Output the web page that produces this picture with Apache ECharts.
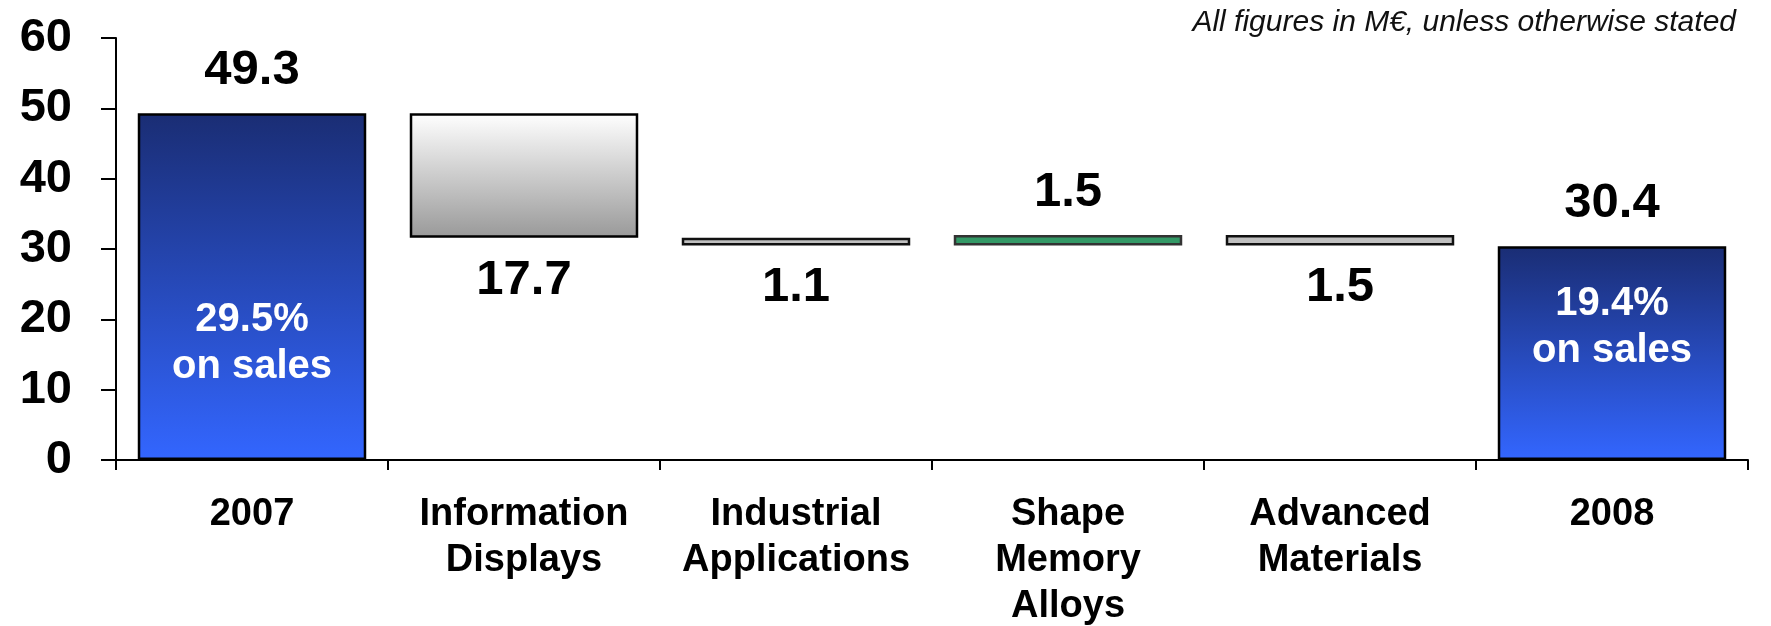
<!DOCTYPE html>
<html>
<head>
<meta charset="utf-8">
<script src="https://cdn.jsdelivr.net/npm/echarts@6/dist/echarts.min.js"></script>
<style>
  html, body { margin: 0; padding: 0; background: #fff; }
  #chart { width: 1771px; height: 626px; }
</style>
</head>
<body>
<div id="chart"></div>
<script>
// data
var categories = ['2007', 'Information\nDisplays', 'Industrial\nApplications', 'Shape\nMemory\nAlloys', 'Advanced\nMaterials', '2008'];
var deltas = [49.3, -17.7, -1.1, 1.5, -1.5, 30.4];
var isTotal = [true, false, false, false, false, true];
var shares = ['29.5%', '', '', '', '', '19.4%'];
var yTicks = [0, 10, 20, 30, 40, 50, 60];

// bar looks
var blueFill = new echarts.graphic.LinearGradient(0, 0, 0, 1, [
  { offset: 0, color: '#1a2d74' }, { offset: 1, color: '#3366ff' }
]);
var greyFill = new echarts.graphic.LinearGradient(0, 0, 0, 1, [
  { offset: 0, color: '#ffffff' }, { offset: 1, color: '#999999' }
]);
var fills = [blueFill, greyFill, '#c0c0c0', '#339966', '#c0c0c0', blueFill];
var borders = ['#000', '#000', '#111', '#333', '#111', '#000'];
var innerOffset = [[0, 57], null, null, null, null, [0, -26]];

// waterfall: transparent base + visible step
var base = [], step = [], shareData = [];
var running = 0;
for (var i = 0; i < deltas.length; i++) {
  var d = deltas[i];
  var lo, hi;
  if (isTotal[i]) {
    lo = 0; hi = d; running = d;
  } else {
    lo = Math.min(running, running + d);
    hi = Math.max(running, running + d);
    running = running + d;
  }
  base.push(+lo.toFixed(2));
  step.push({
    value: +(hi - lo).toFixed(2),
    itemStyle: { color: fills[i], borderColor: borders[i] },
    label: { position: d < 0 ? 'bottom' : 'top' }
  });
  if (isTotal[i]) {
    shareData.push({ value: d, label: { offset: innerOffset[i] } });
  } else {
    shareData.push('-');
  }
}

var chart = echarts.init(document.getElementById('chart'));
chart.setOption({
  animation: false,
  title: {
    text: 'All figures in M€, unless otherwise stated',
    right: 30,
    top: 3,
    textStyle: { fontFamily: 'Liberation Sans, Arial', fontStyle: 'italic', fontWeight: 'normal', fontSize: 30, color: '#111' }
  },
  grid: { left: 116, right: 23, top: 38, bottom: 166, containLabel: false, outerBoundsMode: 'none' },
  xAxis: {
    type: 'category',
    data: categories,
    axisLine: { lineStyle: { color: '#000', width: 2 } },
    axisTick: { show: true, length: 10, lineStyle: { color: '#000', width: 2 } },
    axisLabel: {
      interval: 0,
      margin: 32,
      color: '#000',
      fontFamily: 'Liberation Sans, Arial',
      fontWeight: 'bold',
      fontSize: 38,
      lineHeight: 46
    }
  },
  yAxis: {
    type: 'value',
    min: yTicks[0],
    max: yTicks[yTicks.length - 1],
    interval: 10,
    splitLine: { show: false },
    axisLine: { show: true, lineStyle: { color: '#000', width: 2 } },
    axisTick: { show: true, length: 15, lineStyle: { color: '#000', width: 2 } },
    axisLabel: {
      margin: 44,
      color: '#000',
      fontFamily: 'Liberation Sans, Arial',
      fontWeight: 'bold',
      fontSize: 47
    }
  },
  series: [
    {
      name: 'base',
      type: 'bar',
      stack: 'wf',
      barCategoryGap: '16%',
      itemStyle: { color: 'transparent' },
      data: base,
      silent: true
    },
    {
      name: 'step',
      type: 'bar',
      stack: 'wf',
      barCategoryGap: '16%',
      itemStyle: { borderWidth: 2.5 },
      label: {
        show: true,
        distance: 18,
        color: '#000',
        fontFamily: 'Liberation Sans, Arial',
        fontWeight: 'bold',
        fontSize: 49,
        formatter: function (p) { return Math.abs(deltas[p.dataIndex]).toFixed(1); }
      },
      data: step
    },
    {
      name: 'share',
      type: 'bar',
      barGap: '-100%',
      barCategoryGap: '16%',
      itemStyle: { color: 'transparent' },
      label: {
        show: true,
        position: 'inside',
        color: '#fff',
        fontFamily: 'Liberation Sans, Arial',
        fontWeight: 'bold',
        fontSize: 40,
        lineHeight: 47,
        formatter: function (p) { return shares[p.dataIndex] + '\non sales'; }
      },
      data: shareData,
      silent: true
    }
  ]
});
</script>
</body>
</html>
